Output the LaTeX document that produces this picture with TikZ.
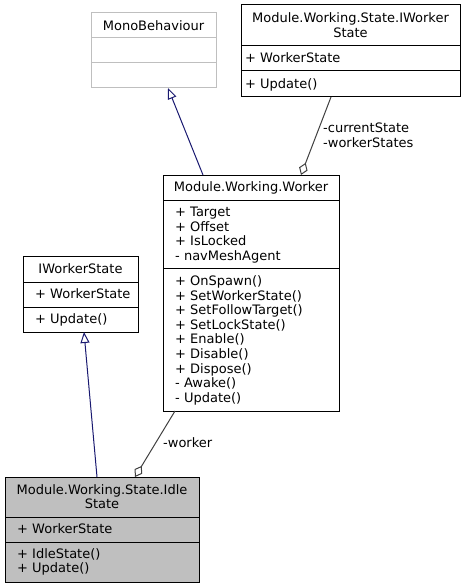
\documentclass[tikz,border=0pt]{standalone}
\usepackage{fontspec}
\setmainfont{DejaVu Sans}
\usetikzlibrary{arrows.meta}

\definecolor{inhcol}{HTML}{191970}
\definecolor{aggcol}{HTML}{404040}
\definecolor{extgray}{HTML}{BFBFBF}
\definecolor{idlefill}{HTML}{BFBFBF}

\newcommand\umlfont{\fontsize{13}{14.6}\selectfont}

\begin{document}
\begin{tikzpicture}[x=1pt,y=-1pt,
  classbox/.style={draw=black, line width=1pt, rectangle, inner sep=0pt,
    outer sep=0pt, anchor=north west},
  extbox/.style={classbox, draw=extgray},
  sepline/.style={line width=1pt, draw=black},
  extsep/.style={line width=1pt, draw=extgray},
  title/.style={anchor=center, inner sep=0pt, align=center, font=\umlfont},
  member/.style={anchor=base west, inner sep=0pt, font=\umlfont},
  rolelabel/.style={anchor=west, inner sep=0pt, align=left, font=\umlfont},
  inherit/.style={draw=inhcol, line width=1pt,
    -{Triangle[open, length=11pt, width=9pt]}},
  aggregate/.style={draw=aggcol, line width=1pt,
    -{Diamond[open, length=13pt, width=9pt]}},
]
\useasboundingbox (0,0) rectangle (465,588);

% ---------- MonoBehaviour (external) ----------
\node[extbox, minimum width=125pt, minimum height=75pt] (mono) at (91,13) {};
\node[title] (monoT) at (153.5,25.5) {MonoBehaviour};
\draw[extsep] (mono.west |- 0,38) -- (mono.east |- 0,38);
\draw[extsep] (mono.west |- 0,63) -- (mono.east |- 0,63);

% ---------- Module.Working.State.IWorkerState ----------
\node[classbox, minimum width=219pt, minimum height=92pt] (wsif) at (241,5) {};
\node[title] (wsifT) at (350.5,25) {Module.Working.State.IWorker\\State};
\draw[sepline] (wsif.west |- 0,46) -- (wsif.east |- 0,46);
\draw[sepline] (wsif.west |- 0,71) -- (wsif.east |- 0,71);
\node[member] (wsifA) at (245,62.5) {+ WorkerState};
\node[member] (wsifM) at (245,88.5) {+ Update()};

% ---------- Module.Working.Worker ----------
\node[classbox, minimum width=176pt, minimum height=236pt] (worker) at (163,175) {};
\node[title] (workerT) at (251,187.5) {Module.Working.Worker};
\draw[sepline] (worker.west |- 0,200) -- (worker.east |- 0,200);
\draw[sepline] (worker.west |- 0,268) -- (worker.east |- 0,268);
\foreach \t [count=\i from 0] in {+ Target, + Offset, + IsLocked, - navMeshAgent}
  \node[member] (workerA\i) at (175,216.5+14.5*\i) {\t};
\foreach \t [count=\i from 0] in {+ OnSpawn(), + SetWorkerState(),
    + SetFollowTarget(), + SetLockState(), + Enable(), + Disable(),
    + Dispose(), - Awake(), - Update()}
  \node[member] (workerM\i) at (175,285.5+14.6*\i) {\t};

% ---------- IWorkerState ----------
\node[classbox, minimum width=115pt, minimum height=76pt] (iws) at (23,256) {};
\node[title] (iwsT) at (80.5,269) {IWorkerState};
\draw[sepline] (iws.west |- 0,282) -- (iws.east |- 0,282);
\draw[sepline] (iws.west |- 0,307) -- (iws.east |- 0,307);
\node[member] (iwsA) at (35,298.5) {+ WorkerState};
\node[member] (iwsM) at (35,323.5) {+ Update()};

% ---------- Module.Working.State.IdleState ----------
\node[classbox, fill=idlefill, minimum width=194pt, minimum height=105pt] (idle) at (5,477) {};
\node[title] (idleT) at (102,496.5) {Module.Working.State.Idle\\State};
\draw[sepline] (idle.west |- 0,517) -- (idle.east |- 0,517);
\draw[sepline] (idle.west |- 0,542) -- (idle.east |- 0,542);
\node[member] (idleA) at (17,533) {+ WorkerState};
\node[member] (idleM0) at (17,558) {+ IdleState()};
\node[member] (idleM1) at (17,572.5) {+ Update()};

% ---------- Relations ----------
\draw[inherit] ([xshift=40pt]worker.north west) -- ([xshift=77pt]mono.south west);
\draw[inherit] ([xshift=92pt]idle.north west) -- ([xshift=61pt]iws.south west);
\draw[aggregate] ([xshift=90pt]wsif.south west) -- ([xshift=138pt]worker.north west);
\draw[aggregate] ([xshift=12pt]worker.south west) -- ([xshift=130pt]idle.north west);

\node[rolelabel] (roleState) at (323,135) {-currentState\\-workerStates};
\node[rolelabel] (roleWorker) at (163,443) {-worker};
\end{tikzpicture}
\end{document}
